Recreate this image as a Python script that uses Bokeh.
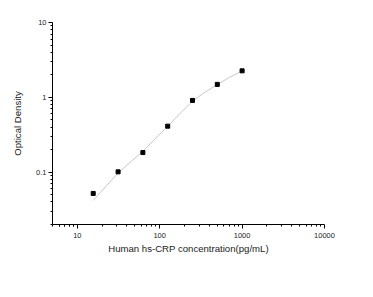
from bokeh.plotting import figure
from bokeh.models import FixedTicker, CustomJSTickFormatter, Range1d
from bokeh.embed import file_html
from bokeh.resources import INLINE

# Standard points
conc = [15.6, 31.25, 62.5, 125, 250, 500, 1000]
od = [0.052, 0.101, 0.183, 0.412, 0.91, 1.49, 2.26]

# Fitted curve
curve_x = [15.6, 22, 31.25, 44, 62.5, 88, 125, 177, 250, 354, 500, 707, 1000]
curve_y = [0.042, 0.064, 0.097, 0.136, 0.19, 0.28, 0.41, 0.61, 0.89, 1.17, 1.48, 1.86, 2.25]

x_major = [10, 100, 1000, 10000]
x_minor = [m * d for d in [1, 10, 100, 1000] for m in range(2, 10)] + [6, 7, 8, 9]
y_major = [0.1, 1, 10]
y_minor = [m * d for d in [0.01, 0.1, 1] for m in range(2, 10)]

p = figure(width=373, height=297, x_axis_type="log", y_axis_type="log",
           x_range=Range1d(5, 10000), y_range=Range1d(0.02, 10),
           output_backend="svg", toolbar_location=None,
           min_border_left=52, min_border_right=49, min_border_top=22, min_border_bottom=73)
p.outline_line_color = None
p.xgrid.visible = False
p.ygrid.visible = False
p.background_fill_color = "white"
p.border_fill_color = "white"

p.line(curve_x, curve_y, line_color="#c8c8c8", line_width=1)
p.scatter(conc, od, marker="square", size=4, fill_color="black", line_color="black")

fmt = CustomJSTickFormatter(code="return tick.toString();")
p.xaxis.ticker = FixedTicker(ticks=x_major, minor_ticks=x_minor)
p.yaxis.ticker = FixedTicker(ticks=y_major, minor_ticks=y_minor)
p.xaxis.formatter = fmt
p.yaxis.formatter = fmt

for ax in [p.xaxis[0], p.yaxis[0]]:
    ax.axis_line_color = "black"
    ax.major_tick_line_color = "black"
    ax.minor_tick_line_color = "black"
    ax.major_tick_out = 4
    ax.major_tick_in = 0
    ax.minor_tick_out = 2
    ax.minor_tick_in = 0
    ax.major_label_text_font = "Liberation Sans"
    ax.major_label_text_font_size = "7.5px"
    ax.major_label_text_color = "#222222"
    ax.axis_label_text_font = "Liberation Sans"
    ax.axis_label_text_font_size = "9.6px"
    ax.axis_label_text_font_style = "normal"
    ax.axis_label_text_color = "#222222"

p.xaxis.axis_label = "Human hs-CRP concentration(pg/mL)"
p.yaxis.axis_label = "Optical Density"
p.xaxis.major_label_standoff = 4
p.xaxis.axis_label_standoff = 2
p.yaxis.major_label_standoff = 2
p.yaxis.axis_label_standoff = 10

open("out.html", "w").write(file_html(p, INLINE))
